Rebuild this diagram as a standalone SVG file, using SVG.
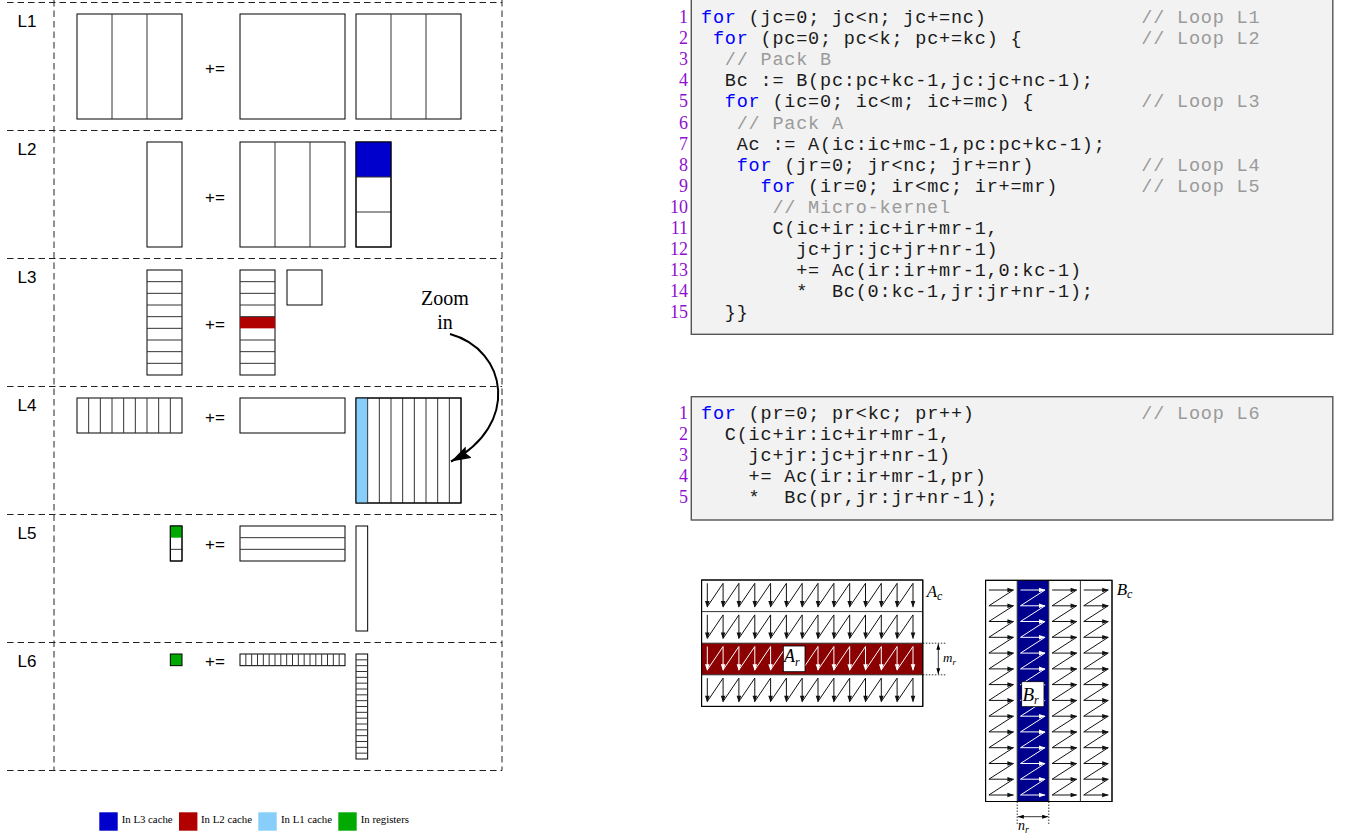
<svg xmlns="http://www.w3.org/2000/svg" width="1345" height="836" viewBox="0 0 1345 836">
<style>
.dash{stroke:#222;stroke-width:1;stroke-dasharray:6.5 4;fill:none}
.m{fill:#fff;stroke:#000;stroke-width:1}
.o{fill:none;stroke:#000;stroke-width:1}
.d{fill:none;stroke:#333;stroke-width:1}
.lbl{font-family:"Liberation Sans",Arial,sans-serif;font-size:17px;fill:#000}
.op{font-family:"Liberation Sans",Arial,sans-serif;font-size:17px;fill:#000}
.box{fill:#f2f2f2;stroke:#555;stroke-width:1.4}
.code{font-family:"Liberation Mono","Courier New",monospace;font-size:18.5px;letter-spacing:0.8px;fill:#1a1a1a;white-space:pre}
.kw{fill:#0000ff}
.cm{fill:#9a9a9a}
.ln{font-family:"Liberation Serif","Times New Roman",serif;font-size:18px;fill:#9010d0;text-anchor:end}
.it{font-family:"Liberation Serif","Times New Roman",serif;font-style:italic;fill:#000}
.leg{font-family:"Liberation Serif","Times New Roman",serif;font-size:10.8px;fill:#000}
.dot{stroke:#000;stroke-width:0.8;stroke-dasharray:1.5 1.5;fill:none}
.l3{fill:#0000cc}
.l2{fill:#b00000}
.l1{fill:#87cefa}
.rg{fill:#00aa00}
</style>
<defs>
  <marker id="bigHead" viewBox="0 0 20 13" refX="20" refY="6.5" markerWidth="20" markerHeight="13" markerUnits="userSpaceOnUse" orient="auto">
    <path d="M0,0 L20,6.5 L0,13 L3,6.5 Z" fill="#000"/>
  </marker>
  <marker id="smallHead" viewBox="0 0 6 4" refX="6" refY="2" markerWidth="6" markerHeight="4" markerUnits="userSpaceOnUse" orient="auto-start-reverse">
    <path d="M0,0 L6,2 L0,4 Z" fill="#000"/>
  </marker>
  <!-- one row of the A_c traversal: down arrows joined by diagonals -->
  <g id="acZig">
    <path fill="none" stroke="currentColor" stroke-width="1" stroke-linejoin="round" d="M707.3,3.3V26.7L723.1,3.3V26.7L738.9,3.3V26.7L754.8,3.3V26.7L770.6,3.3V26.7L786.4,3.3V26.7L802.2,3.3V26.7L818,3.3V26.7L833.9,3.3V26.7L849.7,3.3V26.7L865.5,3.3V26.7L881.3,3.3V26.7L897.1,3.3V26.7L913,3.3V26.7"/>
    <path fill="currentColor" stroke="none" d="M705,21L709.6,21L707.3,27.7ZM720.8,21L725.4,21L723.1,27.7ZM736.6,21L741.2,21L738.9,27.7ZM752.5,21L757.1,21L754.8,27.7ZM768.3,21L772.9,21L770.6,27.7ZM784.1,21L788.7,21L786.4,27.7ZM799.9,21L804.5,21L802.2,27.7ZM815.7,21L820.3,21L818,27.7ZM831.6,21L836.2,21L833.9,27.7ZM847.4,21L852,21L849.7,27.7ZM863.2,21L867.8,21L865.5,27.7ZM879,21L883.6,21L881.3,27.7ZM894.8,21L899.4,21L897.1,27.7ZM910.7,21L915.3,21L913,27.7Z"/>
  </g>
  <!-- one column of the B_c traversal: right arrows joined by diagonals -->
  <g id="bcZig">
    <path fill="none" stroke="currentColor" stroke-width="1" stroke-linejoin="round" d="M3.3,590H27.8L3.3,605.8H27.8L3.3,621.5H27.8L3.3,637.3H27.8L3.3,653.1H27.8L3.3,668.9H27.8L3.3,684.6H27.8L3.3,700.4H27.8L3.3,716.2H27.8L3.3,731.9H27.8L3.3,747.7H27.8L3.3,763.5H27.8L3.3,779.2H27.8L3.3,795H27.8"/>
    <path fill="currentColor" stroke="none" d="M21.8,587.7L28.5,590L21.8,592.3ZM21.8,603.5L28.5,605.8L21.8,608.1ZM21.8,619.2L28.5,621.5L21.8,623.8ZM21.8,635L28.5,637.3L21.8,639.6ZM21.8,650.8L28.5,653.1L21.8,655.4ZM21.8,666.6L28.5,668.9L21.8,671.2ZM21.8,682.3L28.5,684.6L21.8,686.9ZM21.8,698.1L28.5,700.4L21.8,702.7ZM21.8,713.9L28.5,716.2L21.8,718.5ZM21.8,729.6L28.5,731.9L21.8,734.2ZM21.8,745.4L28.5,747.7L21.8,750ZM21.8,761.2L28.5,763.5L21.8,765.8ZM21.8,776.9L28.5,779.2L21.8,781.5ZM21.8,792.7L28.5,795L21.8,797.3Z"/>
  </g>
</defs>

<!-- loop grid -->
<g id="grid">
  <path class="dash" d="M7,2.5H502M7,130.5H502M7,258.5H502M7,386.5H502M7,514.5H502M7,642.5H502M7,770.5H502"/>
  <path class="dash" d="M54,0V770.5M502,0V770.5"/>
</g>

<g id="row-L1">
  <text class="lbl" x="17.5" y="26.5">L1</text>
  <g id="L1-C"><rect class="m" x="77" y="14" width="105" height="105"/><path class="d" d="M112,14V119M147,14V119"/></g>
  <text class="op" x="205" y="73.5">+=</text>
  <g id="L1-A"><rect class="m" x="240" y="14" width="105" height="105"/></g>
  <g id="L1-B"><rect class="m" x="356" y="14" width="105" height="105"/><path class="d" d="M391,14V119M426,14V119"/></g>
</g>

<g id="row-L2">
  <text class="lbl" x="17.5" y="154.5">L2</text>
  <g id="L2-C"><rect class="m" x="147" y="142" width="35" height="105"/></g>
  <text class="op" x="205" y="203">+=</text>
  <g id="L2-A"><rect class="m" x="240" y="142" width="105" height="105"/><path class="d" d="M275,142V247M310,142V247"/></g>
  <g id="L2-B"><rect class="m" x="356" y="142" width="35" height="105"/><rect class="l3" x="356" y="142" width="35" height="35"/><path class="d" d="M356,177H391M356,212H391"/><rect class="o" x="356" y="142" width="35" height="105"/></g>
</g>

<g id="row-L3">
  <text class="lbl" x="17.5" y="282.5">L3</text>
  <g id="L3-C"><rect class="m" x="147" y="270" width="35" height="105"/><path class="d" d="M147,281.67H182M147,293.33H182M147,305H182M147,316.67H182M147,328.33H182M147,340H182M147,351.67H182M147,363.33H182"/></g>
  <text class="op" x="205" y="330">+=</text>
  <g id="L3-A"><rect class="m" x="240" y="270" width="35" height="105"/><rect class="l2" x="240" y="316.67" width="35" height="11.67"/><path class="d" d="M240,281.67H275M240,293.33H275M240,305H275M240,316.67H275M240,340H275M240,351.67H275M240,363.33H275"/></g>
  <g id="L3-B"><rect class="m" x="287" y="270" width="35" height="35"/></g>
</g>

<g id="row-L4">
  <text class="lbl" x="17.5" y="410.5">L4</text>
  <g id="L4-C"><rect class="m" x="77" y="398" width="105" height="35"/><path class="d" d="M88.67,398V433M100.33,398V433M112,398V433M123.67,398V433M135.33,398V433M147,398V433M158.67,398V433M170.33,398V433"/></g>
  <text class="op" x="205" y="423">+=</text>
  <g id="L4-A"><rect class="m" x="240" y="398" width="105" height="35"/></g>
  <g id="L4-B"><rect class="m" x="356" y="398" width="105" height="105"/><rect class="l1" x="356" y="398" width="11.67" height="105"/><path class="d" d="M367.67,398V503M379.33,398V503M391,398V503M402.67,398V503M414.33,398V503M426,398V503M437.67,398V503M449.33,398V503"/><rect class="o" x="356" y="398" width="105" height="105"/></g>
</g>

<g id="row-L5">
  <text class="lbl" x="17.5" y="538.5">L5</text>
  <g id="L5-C"><rect class="m" x="170.33" y="526" width="11.67" height="35"/><rect class="rg" x="170.33" y="526" width="11.67" height="11.67"/><path class="d" d="M170.33,549.33H182"/><rect class="o" x="170.33" y="526" width="11.67" height="35"/></g>
  <text class="op" x="205" y="550">+=</text>
  <g id="L5-A"><rect class="m" x="240" y="526" width="105" height="35"/><path class="d" d="M240,537.67H345M240,549.33H345"/></g>
  <g id="L5-B"><rect class="m" x="356" y="526" width="11.67" height="105"/></g>
</g>

<g id="row-L6">
  <text class="lbl" x="17.5" y="666.5">L6</text>
  <g id="L6-C"><rect class="rg" x="170.33" y="654" width="11.67" height="11.67" stroke="#000" stroke-width="1"/></g>
  <text class="op" x="205" y="667">+=</text>
  <g id="L6-A"><rect class="m" x="240" y="654" width="105" height="11.67"/><path class="d" d="M245.83,654V665.67M251.67,654V665.67M257.5,654V665.67M263.33,654V665.67M269.17,654V665.67M275,654V665.67M280.83,654V665.67M286.67,654V665.67M292.5,654V665.67M298.33,654V665.67M304.17,654V665.67M310,654V665.67M315.83,654V665.67M321.67,654V665.67M327.5,654V665.67M333.33,654V665.67M339.17,654V665.67"/></g>
  <g id="L6-B"><rect class="m" x="356" y="654" width="11.67" height="105"/><path class="d" d="M356,659.83H367.67M356,665.67H367.67M356,671.5H367.67M356,677.33H367.67M356,683.17H367.67M356,689H367.67M356,694.83H367.67M356,700.67H367.67M356,706.5H367.67M356,712.33H367.67M356,718.17H367.67M356,724H367.67M356,729.83H367.67M356,735.67H367.67M356,741.5H367.67M356,747.33H367.67M356,753.17H367.67"/></g>
</g>

<g id="zoom-label">
  <text x="445" y="305" text-anchor="middle" font-family="Liberation Serif, Times New Roman, serif" font-size="20">Zoom</text>
  <text x="445" y="328.5" text-anchor="middle" font-family="Liberation Serif, Times New Roman, serif" font-size="20">in</text>
</g>

<g id="connectors">
  <path d="M450,334 C508,350 520,425 451,461.5" fill="none" stroke="#000" stroke-width="2" marker-end="url(#bigHead)"/>
</g>

<g id="legend">
  <rect class="l3" x="99.3" y="812.3" width="18.4" height="18.4"/><text class="leg" x="121.7" y="823">In L3 cache</text>
  <rect class="l2" x="179" y="812.3" width="18.4" height="18.4"/><text class="leg" x="201" y="823">In L2 cache</text>
  <rect class="l1" x="258.3" y="812.3" width="18.4" height="18.4"/><text class="leg" x="281" y="823">In L1 cache</text>
  <rect class="rg" x="338.3" y="812.3" width="18.4" height="18.4"/><text class="leg" x="360.7" y="823">In registers</text>
</g>

<!-- blocked loop nest -->
<g id="code-main">
  <rect class="box" x="691.3" y="-5" width="641.5" height="339.3"/>
  <text class="ln" x="688" y="23">1</text>
  <text class="ln" x="688" y="44.1">2</text>
  <text class="ln" x="688" y="65.2">3</text>
  <text class="ln" x="688" y="86.3">4</text>
  <text class="ln" x="688" y="107.4">5</text>
  <text class="ln" x="688" y="128.5">6</text>
  <text class="ln" x="688" y="149.6">7</text>
  <text class="ln" x="688" y="170.7">8</text>
  <text class="ln" x="688" y="191.8">9</text>
  <text class="ln" x="688" y="212.9">10</text>
  <text class="ln" x="688" y="234">11</text>
  <text class="ln" x="688" y="255.1">12</text>
  <text class="ln" x="688" y="276.2">13</text>
  <text class="ln" x="688" y="297.3">14</text>
  <text class="ln" x="688" y="318.4">15</text>
  <text class="code" x="701" y="23"><tspan class="kw">for</tspan> (jc=0; jc&lt;n; jc+=nc)</text>
  <text class="code" x="712.9" y="44.1"><tspan class="kw">for</tspan> (pc=0; pc&lt;k; pc+=kc) {</text>
  <text class="code cm" x="724.8" y="65.2">// Pack B</text>
  <text class="code" x="724.8" y="86.3">Bc := B(pc:pc+kc-1,jc:jc+nc-1);</text>
  <text class="code" x="724.8" y="107.4"><tspan class="kw">for</tspan> (ic=0; ic&lt;m; ic+=mc) {</text>
  <text class="code cm" x="736.7" y="128.5">// Pack A</text>
  <text class="code" x="736.7" y="149.6">Ac := A(ic:ic+mc-1,pc:pc+kc-1);</text>
  <text class="code" x="736.7" y="170.7"><tspan class="kw">for</tspan> (jr=0; jr&lt;nc; jr+=nr)</text>
  <text class="code" x="760.5" y="191.8"><tspan class="kw">for</tspan> (ir=0; ir&lt;mc; ir+=mr)</text>
  <text class="code cm" x="772.4" y="212.9">// Micro-kernel</text>
  <text class="code" x="772.4" y="234">C(ic+ir:ic+ir+mr-1,</text>
  <text class="code" x="796.2" y="255.1">jc+jr:jc+jr+nr-1)</text>
  <text class="code" x="796.2" y="276.2">+= Ac(ir:ir+mr-1,0:kc-1)</text>
  <text class="code" x="796.2" y="297.3">*  Bc(0:kc-1,jr:jr+nr-1);</text>
  <text class="code" x="724.8" y="318.4">}}</text>
  <text class="code cm" x="1141.3" y="23">// Loop L1</text>
  <text class="code cm" x="1141.3" y="44.1">// Loop L2</text>
  <text class="code cm" x="1141.3" y="107.4">// Loop L3</text>
  <text class="code cm" x="1141.3" y="170.7">// Loop L4</text>
  <text class="code cm" x="1141.3" y="191.8">// Loop L5</text>
</g>

<!-- micro-kernel loop -->
<g id="code-kernel">
  <rect class="box" x="691.3" y="396.7" width="641.5" height="123.3"/>
  <text class="ln" x="688" y="419">1</text>
  <text class="ln" x="688" y="440.1">2</text>
  <text class="ln" x="688" y="461.2">3</text>
  <text class="ln" x="688" y="482.3">4</text>
  <text class="ln" x="688" y="503.4">5</text>
  <text class="code" x="701" y="419"><tspan class="kw">for</tspan> (pr=0; pr&lt;kc; pr++)</text>
  <text class="code" x="724.8" y="440.1">C(ic+ir:ic+ir+mr-1,</text>
  <text class="code" x="748.6" y="461.2">jc+jr:jc+jr+nr-1)</text>
  <text class="code" x="748.6" y="482.3">+= Ac(ir:ir+mr-1,pr)</text>
  <text class="code" x="748.6" y="503.4">*  Bc(pr,jr:jr+nr-1);</text>
  <text class="code cm" x="1141.3" y="419">// Loop L6</text>
</g>

<!-- packed A_c with micro-panel A_r -->
<g id="Ac">
  <rect class="m" x="701.6" y="580" width="221.2" height="126.4"/>
  <rect x="701.6" y="643.2" width="221.2" height="31.6" fill="#8b0000"/>
  <use href="#acZig" transform="translate(0,580)" color="#111"/>
  <use href="#acZig" transform="translate(0,611.6)" color="#111"/>
  <use href="#acZig" transform="translate(0,643.2)" color="#ffffff"/>
  <use href="#acZig" transform="translate(0,674.8)" color="#111"/>
  <path class="d" d="M701.6,611.6H922.8M701.6,643.2H922.8M701.6,674.8H922.8"/>
  <rect class="o" x="701.6" y="580" width="221.2" height="126.4"/>
  <rect x="783.3" y="646" width="21.7" height="25.7" fill="#fff" stroke="#000" stroke-width="0.8"/>
  <text class="it" x="784" y="662" font-size="18">A<tspan font-size="12" dy="3.5">r</tspan></text>
  <text class="it" x="926.7" y="596.7" font-size="17">A<tspan font-size="12" dy="3">c</tspan></text>
  <path class="dot" d="M922.8,643.2H946M922.8,674.8H946"/>
  <path d="M938.3,643.8V674.2" stroke="#000" stroke-width="0.8" fill="none" marker-start="url(#smallHead)" marker-end="url(#smallHead)"/>
  <text class="it" x="943" y="662" font-size="13">m<tspan font-size="9" dy="2.5">r</tspan></text>
</g>

<!-- packed B_c with micro-panel B_r -->
<g id="Bc">
  <rect class="m" x="985.6" y="580.3" width="126.4" height="221.2"/>
  <rect x="1017.2" y="580.3" width="31.6" height="221.2" fill="#00008f"/>
  <use href="#bcZig" transform="translate(985.6,0)" color="#111"/>
  <use href="#bcZig" transform="translate(1017.2,0)" color="#ffffff"/>
  <use href="#bcZig" transform="translate(1048.8,0)" color="#111"/>
  <use href="#bcZig" transform="translate(1080.4,0)" color="#111"/>
  <path class="d" d="M1017.2,580.3V801.5M1048.8,580.3V801.5M1080.4,580.3V801.5"/>
  <rect class="o" x="985.6" y="580.3" width="126.4" height="221.2"/>
  <rect x="1021.7" y="681.7" width="22.3" height="25" fill="#fff" stroke="#000" stroke-width="0.8"/>
  <text class="it" x="1022.5" y="700.5" font-size="19">B<tspan font-size="12" dy="3.5">r</tspan></text>
  <text class="it" x="1116.7" y="595" font-size="17">B<tspan font-size="12" dy="3">c</tspan></text>
  <path class="dot" d="M1017.2,801.5V825M1048.8,801.5V825"/>
  <path d="M1017.8,816.7H1048.2" stroke="#000" stroke-width="0.8" fill="none" marker-start="url(#smallHead)" marker-end="url(#smallHead)"/>
  <text class="it" x="1018" y="830" font-size="14">n<tspan font-size="10" dy="3">r</tspan></text>
</g>
</svg>
